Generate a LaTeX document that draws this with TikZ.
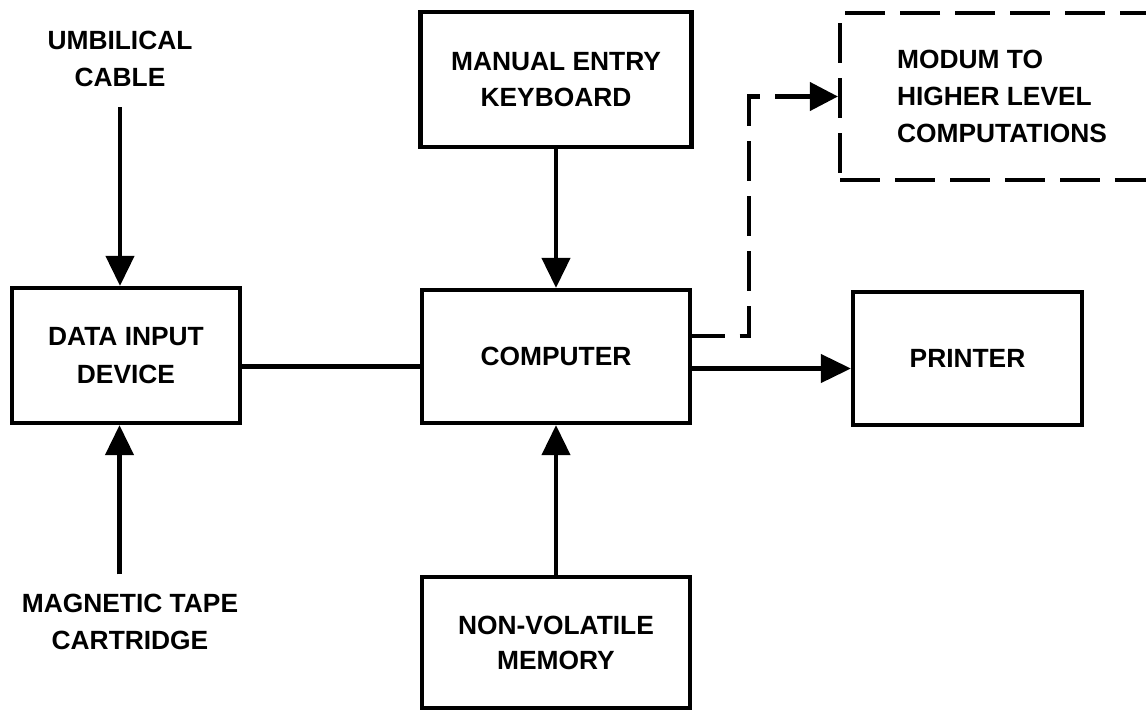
\documentclass[tikz,border=0pt]{standalone}
\usepackage{fontspec}
\setmainfont{Liberation Sans}
\usetikzlibrary{arrows.meta}
\tikzset{
    block/.style={draw,line width=2.4pt,align=center,inner sep=0pt,
        font=\fontsize{15}{20}\selectfont\bfseries},
    tag/.style={align=center,inner sep=0pt,font=\fontsize{15}{21}\selectfont\bfseries},
    flow/.style={line width=2.4pt,-{Triangle[length=.6cm,width=.56cm]}},
    wire/.style={line width=2.4pt},
    dashline/.style={dash pattern=on .8cm off .3cm},
}
\begin{document}
\begin{tikzpicture}[x=.02cm,y=-.02cm]
                \useasboundingbox (0,0) rectangle (1146,711);
                \path
                (120,59) node[tag] (umbilical) {UMBILICAL\\CABLE} % <<< inputs
                (130,621.5) node[tag] (tape) {MAGNETIC TAPE\\CARTRIDGE}
                (126,355.5) node[block,minimum width=4.56cm,minimum height=2.7cm,
                    font=\fontsize{15}{22}\selectfont\bfseries] (data) {DATA INPUT\\DEVICE}
                (556,79.5) node[block,minimum width=5.42cm,minimum height=2.7cm]
                (keyboard) {MANUAL ENTRY\\KEYBOARD} % <<< middle column
                (556,356.5) node[block,minimum width=5.36cm,minimum height=2.66cm]
                (computer) {COMPUTER}
                (556,642.5) node[block,minimum width=5.36cm,minimum height=2.62cm]
                (memory) {NON-VOLATILE\\MEMORY}
                (967.5,358.5) node[block,minimum width=4.58cm,minimum height=2.66cm]
                (printer) {PRINTER} % <<< outputs
                (1002,96.5) node[block,dashline,align=left,minimum width=6.48cm,
                    minimum height=3.34cm,font=\fontsize{15}{21}\selectfont\bfseries]
                (modum) {MODUM TO\\HIGHER LEVEL\\COMPUTATIONS};
                \coordinate (cable) at (umbilical.south);
                \coordinate (cart) at ([xshift=-.21cm]tape.north);
                \coordinate (link) at ([yshift=-.22cm]data.east);
                \coordinate (feed) at ([yshift=-.24cm]computer.east);
                \coordinate (tap) at ([yshift=.41cm]computer.east);
                \draw[flow,shorten <=.4cm] (cable)--(cable |- data.north);
                \draw[flow,shorten <=.38cm] (cart)--(cart |- data.south);
                \draw[wire] (link)--(link -| computer.west);
                \draw[flow] (keyboard)--(computer);
                \draw[flow] (memory)--(computer);
                \draw[flow] (feed)--(feed -| printer.west);
                \draw[flow,dashline,dash phase=.15cm,-{Triangle[length=.56cm,width=.56cm]}]
                (tap)--++(57,0) |- (modum.west);
\end{tikzpicture}
\end{document}
